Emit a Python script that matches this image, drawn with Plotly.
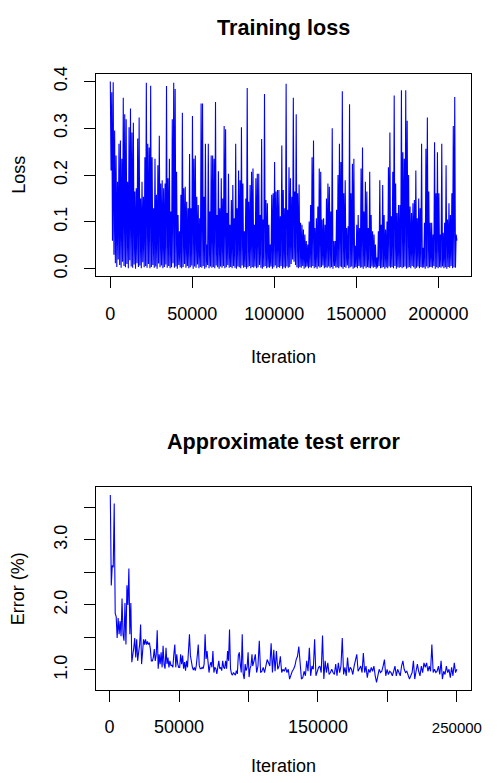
import plotly.graph_objects as go

# ---------------- data ----------------
# Training loss: spike tops and the low values between them
LOSS_PEAKS_A = [
    0.400, 0.377, 0.398, 0.295, 0.242, 0.186, 0.267, 0.274, 0.235, 0.365,
    0.330, 0.319, 0.186, 0.302, 0.342, 0.291, 0.312, 0.165, 0.172, 0.278,
    0.323, 0.150, 0.186, 0.154, 0.238, 0.397, 0.267, 0.259, 0.391, 0.238,
    0.129, 0.235, 0.158, 0.221, 0.284, 0.182, 0.189, 0.172, 0.182, 0.390,
    0.193, 0.235, 0.122, 0.319, 0.397, 0.384, 0.207, 0.115, 0.080, 0.158,
    0.333, 0.172, 0.175, 0.143, 0.129, 0.245, 0.129, 0.326, 0.235, 0.242,
    0.154, 0.136, 0.108, 0.353, 0.353, 0.154, 0.267, 0.052, 0.267, 0.122,
    0.242, 0.242, 0.235, 0.356,
]
LOSS_PEAKS_B = [
    0.115, 0.208, 0.129, 0.193, 0.150, 0.305, 0.298, 0.119, 0.203, 0.094,
    0.147, 0.179, 0.108, 0.267, 0.129, 0.210, 0.189, 0.302, 0.182, 0.080,
    0.150, 0.386, 0.143, 0.179, 0.207, 0.214, 0.094, 0.193, 0.203, 0.203,
    0.115, 0.277, 0.105, 0.373, 0.147, 0.140, 0.094, 0.052, 0.158, 0.161,
    0.228, 0.165, 0.168, 0.168, 0.112, 0.263, 0.168, 0.129, 0.395, 0.126,
    0.217, 0.193, 0.154, 0.365, 0.165, 0.330, 0.161, 0.180, 0.098, 0.094,
    0.084, 0.073, 0.059, 0.052, 0.101, 0.136, 0.238, 0.274, 0.087, 0.108,
    0.133, 0.214, 0.207, 0.105, 0.108, 0.094, 0.150, 0.182, 0.175, 0.122,
    0.300, 0.059, 0.059,
]
LOSS_PEAKS_C = [
    0.126, 0.200, 0.267, 0.228, 0.379, 0.161, 0.189, 0.087, 0.091,
    0.351, 0.161, 0.224, 0.235, 0.049, 0.094, 0.115, 0.087, 0.214, 0.259,
    0.122, 0.186, 0.165, 0.087, 0.207, 0.115, 0.080, 0.073, 0.052, 0.024,
    0.080, 0.189, 0.094, 0.179, 0.115, 0.084, 0.101, 0.217, 0.291, 0.112,
    0.207, 0.370, 0.182, 0.119, 0.136, 0.136, 0.381, 0.249, 0.235, 0.381,
    0.316, 0.200, 0.133, 0.119, 0.140, 0.147, 0.210, 0.108, 0.150, 0.129,
    0.267, 0.045, 0.098, 0.256, 0.323, 0.165, 0.098, 0.098, 0.073, 0.270,
    0.161, 0.249, 0.161, 0.073, 0.267, 0.077, 0.098, 0.221, 0.105, 0.140,
    0.115, 0.161, 0.305, 0.367, 0.073,
]
LOSS_TROUGHS = [
    0.210, 0.060, 0.030, 0.012, 0.004, 0.020, 0.008, 0.002, 0.015, 0.006,
    0.003, 0.010, 0.001, 0.018, 0.005, 0.002, 0.009, 0.000, 0.012, 0.004,
    0.007, 0.001, 0.014, 0.003, 0.006, 0.002, 0.010, 0.001, 0.004, 0.008,
    0.002, 0.005, 0.000, 0.011, 0.003, 0.007, 0.001, 0.004, 0.009, 0.002,
    0.006, 0.001, 0.003, 0.012, 0.002, 0.005, 0.000, 0.008, 0.003, 0.001,
    0.004, 0.010, 0.002, 0.006, 0.001, 0.003, 0.007, 0.000, 0.005, 0.002,
    0.009, 0.001, 0.004, 0.002, 0.006, 0.000, 0.003, 0.008, 0.001, 0.005,
    0.002, 0.004, 0.001, 0.007, 0.003, 0.000, 0.005, 0.002, 0.006, 0.001,
    0.003, 0.008, 0.002, 0.004, 0.001, 0.006, 0.002, 0.000, 0.005, 0.003,
    0.001, 0.007, 0.002, 0.004, 0.000, 0.003, 0.006, 0.001, 0.004, 0.002,
    0.005, 0.001, 0.003, 0.008, 0.002, 0.000, 0.004, 0.006, 0.001, 0.003,
    0.002, 0.005, 0.000, 0.003, 0.007, 0.001, 0.004, 0.002, 0.006, 0.000,
    0.003, 0.001, 0.005, 0.002, 0.004, 0.010, 0.020, 0.015, 0.008, 0.003,
    0.001, 0.004, 0.002, 0.006, 0.000, 0.003, 0.005, 0.001, 0.004, 0.002,
    0.006, 0.001, 0.003, 0.000, 0.005, 0.002, 0.004, 0.007, 0.001, 0.003,
    0.002, 0.005, 0.001, 0.004, 0.000, 0.006, 0.002, 0.003, 0.001, 0.005,
    0.003, 0.000, 0.004, 0.002, 0.007, 0.001, 0.003, 0.005, 0.000, 0.002,
    0.004, 0.001, 0.006, 0.002, 0.003, 0.000, 0.005, 0.001, 0.004, 0.002,
    0.001, 0.005, 0.002, 0.004, 0.000, 0.003, 0.006, 0.001, 0.002, 0.004,
    0.000, 0.003, 0.001, 0.005, 0.002, 0.004, 0.001, 0.006, 0.000, 0.003,
    0.002, 0.004, 0.001, 0.003, 0.005, 0.000, 0.002, 0.004, 0.001, 0.006,
    0.003, 0.000, 0.002, 0.005, 0.001, 0.004, 0.002, 0.003, 0.000, 0.005,
    0.001, 0.003, 0.004, 0.002, 0.006, 0.000, 0.003, 0.001, 0.004, 0.002,
    0.005, 0.001, 0.003, 0.000, 0.004, 0.002, 0.006, 0.001, 0.003, 0.002,
    0.060,
]
LOSS_FIRST_ITER = 0
LOSS_LAST_ITER = 211300

# Approximate test error (%)
ERR_EARLY = [
    3.69, 2.30, 2.61, 2.58, 3.56, 1.87, 1.82, 1.49, 1.80, 1.55,
    1.75, 1.52, 2.10, 1.55, 1.45, 2.03, 1.39, 2.30, 2.00, 2.56,
    1.55, 2.03, 1.12, 1.29, 1.34, 1.49, 1.19, 1.47, 1.14, 1.27,
    1.39, 1.70, 1.09, 1.27, 1.47, 1.39, 1.47, 1.39, 1.44, 1.39,
    1.42, 1.32, 1.14, 1.14, 1.19, 1.32, 1.14, 1.24, 1.61, 1.02,
    1.24, 1.09, 1.27, 1.04, 1.37, 1.09, 1.02, 1.34, 1.09, 1.19,
    1.04, 1.14, 1.07, 1.07, 1.04, 1.24, 1.39, 1.04, 1.24, 1.09,
    1.04, 1.04, 1.24, 1.09, 1.22, 1.02, 1.12, 0.99, 1.14, 1.04,
    1.34, 1.55, 1.22, 1.09, 1.04, 1.00, 1.04, 0.99, 1.07, 1.22,
    1.39, 1.07, 1.02, 1.02, 1.04, 1.02, 1.09, 1.55, 1.17, 1.29,
    1.04, 0.96, 1.07, 1.12, 1.04, 1.29, 0.96, 1.04, 1.02, 0.94,
    1.04, 1.14, 1.02, 1.04, 0.99, 1.14, 1.04, 1.02, 1.14, 1.02,
    1.29, 1.14, 1.62, 1.02, 0.94, 0.92, 0.96, 0.94, 0.92, 0.99,
    0.94, 1.22, 1.27, 1.09, 0.96, 1.55, 0.94, 0.86, 1.09, 0.99,
    1.04, 1.27, 0.89, 1.02, 1.07, 1.24,
]
ERR_EARLY_ITERS = (500, 102500)
ERR_LATE = [
    1.06, 1.14, 1.24, 0.96, 1.06, 1.45, 0.96, 0.98, 1.04, 0.96, 1.06, 1.16, 1.11,
    1.06, 1.41, 0.96, 1.31, 0.98, 1.29, 1.01, 1.06, 1.21, 0.96,
    1.01, 0.98, 1.04, 0.96, 1.01, 0.86, 0.93, 0.98, 1.01, 1.06,
    1.16, 1.21, 1.36, 1.01, 0.86, 0.88, 0.98, 0.91, 1.14, 0.98,
    1.34, 0.91, 1.06, 1.01, 1.47, 0.91, 0.98, 1.04, 1.06, 0.96,
    1.53, 0.86, 1.14, 0.96, 1.11, 0.93, 0.96, 1.01, 0.96, 0.93,
    1.09, 0.91, 1.11, 0.96, 1.06, 1.49, 0.93, 1.04, 0.91, 1.19,
    0.96, 1.04, 1.01, 0.93, 1.06, 1.16, 1.24, 0.98, 1.01, 1.06,
    0.96, 1.26, 0.96, 1.06, 0.88, 1.01, 0.96, 1.04, 0.98, 1.06,
    0.91, 0.81, 0.91, 1.01, 0.96, 0.98, 1.06, 1.16, 0.91, 1.01,
    0.93, 0.98, 0.96, 0.91, 0.98, 1.06, 0.91, 1.01, 0.96, 0.91,
    1.06, 1.14, 1.01, 0.96, 0.98, 0.91, 0.86, 0.91, 0.96, 1.14,
    0.86, 0.98, 1.09, 0.98, 0.91, 1.06, 0.96, 1.11, 1.04, 1.11,
    0.98, 1.06, 0.98, 1.39, 0.96, 1.01, 0.96, 0.98, 1.06, 0.93,
    1.14, 0.86, 0.98, 0.93, 1.06, 0.96, 1.01, 0.88, 1.04, 0.91,
    1.11, 0.96, 1.01,
]
ERR_LATE_ITERS = (103000, 250000)

# tick labels
LOSS_Y_TICKS = [0.0, 0.1, 0.2, 0.3, 0.4]
LOSS_Y_LABELS = ["0.0", "0.1", "0.2", "0.3", "0.4"]
LOSS_X_TICKS = [0, 50000, 100000, 150000, 200000]
LOSS_X_LABELS = ["0", "50000", "100000", "150000", "200000"]
ERR_Y_TICKS = [1.0, 1.5, 2.0, 2.5, 3.0, 3.5]
ERR_Y_LABELS = ["1.0", "", "2.0", "", "3.0", ""]
ERR_X_TICKS = [0, 50000, 100000, 150000, 200000, 250000]
ERR_X_LABELS = ["0", "50000", "", "150000", "", "250000"]

# ---------------- build series ----------------
loss_peaks = LOSS_PEAKS_A + LOSS_PEAKS_B + LOSS_PEAKS_C
loss_y = []
for p, t in zip(loss_peaks, LOSS_TROUGHS):
    loss_y += [p, t]
n = len(loss_y)
loss_x = [LOSS_FIRST_ITER + (LOSS_LAST_ITER - LOSS_FIRST_ITER) * i / (n - 1) for i in range(n)]


def spread(span, count):
    a, b = span
    return [a + (b - a) * i / (count - 1) for i in range(count)]


err_x = spread(ERR_EARLY_ITERS, len(ERR_EARLY)) + spread(ERR_LATE_ITERS, len(ERR_LATE))
err_y = ERR_EARLY + ERR_LATE


def rpad(vals):
    lo, hi = min(vals), max(vals)
    d = (hi - lo) * 0.04
    return [lo - d, hi + d]


# the last bottom tick label sits at the very edge of the figure: draw it a
# little smaller so it stays inside the drawing area
err_x_ticktext = list(ERR_X_LABELS)
err_x_ticktext[-1] = '<span style="font-size:15px">' + ERR_X_LABELS[-1] + "</span>"

# ---------------- figure ----------------
# The page body keeps its default 8px margin, so the figure is 16px smaller
# than the window and window-pixel positions are shifted by that margin.
WIN_W, WIN_H = 501, 783
PAGE_MARGIN = 8
W, H = WIN_W - 2 * PAGE_MARGIN, WIN_H - 2 * PAGE_MARGIN
FONT = "Liberation Sans, Arial, Helvetica, sans-serif"
BLUE = "#0000ff"
LW = 1.1


def px(xp):
    return (xp - PAGE_MARGIN) / W


def py(yp):
    return 1 - (yp - PAGE_MARGIN) / H


fig = go.Figure()
fig.add_trace(go.Scatter(x=loss_x, y=loss_y, mode="lines",
                         line=dict(color=BLUE, width=LW), xaxis="x", yaxis="y",
                         hoverinfo="skip", showlegend=False))
fig.add_trace(go.Scatter(x=err_x, y=err_y, mode="lines",
                         line=dict(color=BLUE, width=LW), xaxis="x2", yaxis="y2",
                         hoverinfo="skip", showlegend=False))

ax_common = dict(showgrid=False, zeroline=False, showline=True, mirror=True,
                 linecolor="black", linewidth=LW, ticks="outside", ticklen=11,
                 tickwidth=LW, tickcolor="black",
                 tickfont=dict(family=FONT, size=18, color="black"),
                 tickmode="array", fixedrange=True)

XDOM = [px(98.5), px(481.5)]
fig.update_layout(
    width=W, height=H,
    margin=dict(l=0, r=0, t=0, b=0),
    paper_bgcolor="white", plot_bgcolor="white",
    showlegend=False,
    xaxis=dict(ax_common, domain=XDOM, anchor="y", range=rpad(loss_x),
               tickvals=LOSS_X_TICKS, ticktext=LOSS_X_LABELS, ticklabelstandoff=10),
    yaxis=dict(ax_common, domain=[py(271.7), py(66.7)], anchor="x", range=rpad(loss_y),
               tickvals=LOSS_Y_TICKS, ticktext=LOSS_Y_LABELS, tickangle=-90,
               ticklabelstandoff=10),
    xaxis2=dict(ax_common, domain=XDOM, anchor="y2", range=rpad(err_x),
                tickvals=ERR_X_TICKS, ticktext=err_x_ticktext, ticklabelstandoff=10),
    yaxis2=dict(ax_common, domain=[py(690.7), py(485.7)], anchor="x2", range=rpad(err_y),
                tickvals=ERR_Y_TICKS, ticktext=ERR_Y_LABELS, tickangle=-90,
                ticklabelstandoff=10),
)

ann = [
    dict(text="<b>Training loss</b>", x=px(290), y=py(19.5), size=21.6, angle=0),
    dict(text="<b>Approximate test error</b>", x=px(290), y=py(439), size=21.6, angle=0),
    dict(text="Iteration", x=px(290), y=py(353.5), size=18, angle=0),
    dict(text="Iteration", x=px(290), y=py(768), size=18, angle=0),
    dict(text="Loss", x=px(19), y=py(169), size=18, angle=-90),
    dict(text="Error (%)", x=px(19), y=py(588), size=18, angle=-90),
]
for a in ann:
    fig.add_annotation(text=a["text"], x=a["x"], y=a["y"], xref="paper", yref="paper",
                       xanchor="center", yanchor="middle", showarrow=False,
                       textangle=a["angle"],
                       font=dict(family=FONT, size=a["size"], color="black"))

fig.write_html("out.html", config={"displayModeBar": False})
